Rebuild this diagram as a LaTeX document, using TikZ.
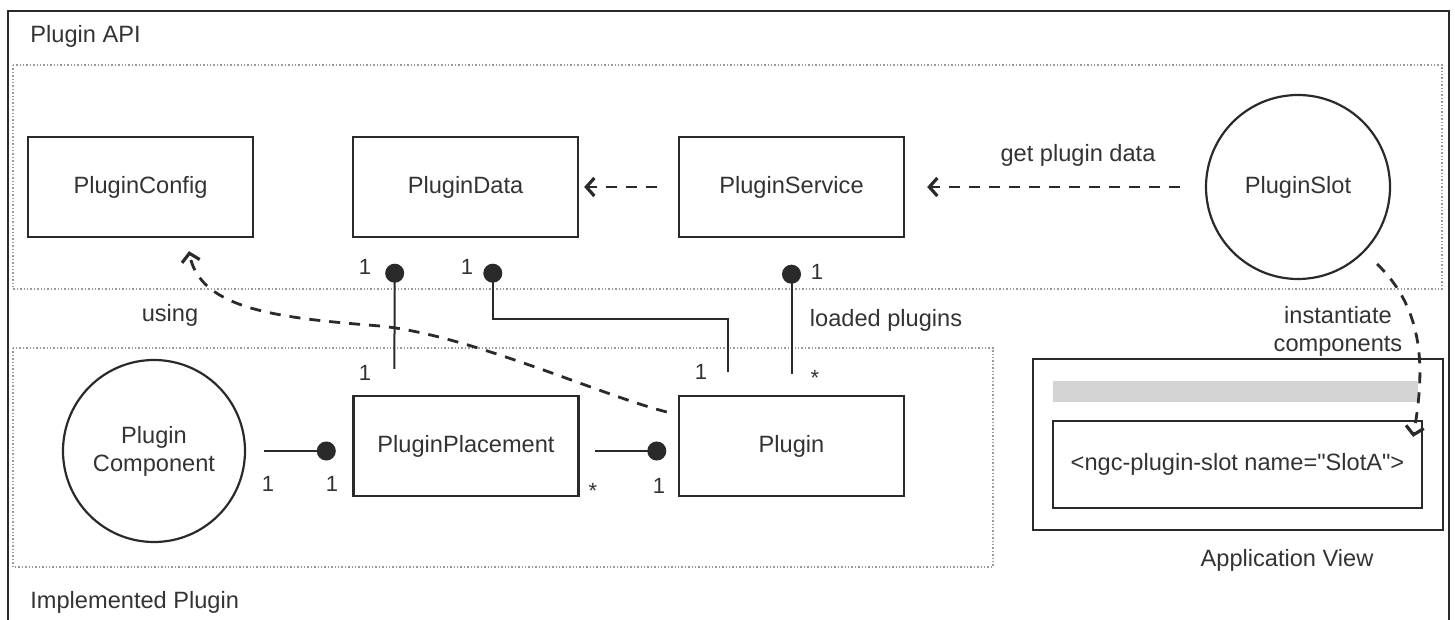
\documentclass[tikz,border=0pt]{standalone}
\usepackage{fontspec}
\setmainfont{Liberation Sans}[Ligatures=TeXOff]
\usetikzlibrary{arrows.meta,calc}
\definecolor{inkgray}{HTML}{333333}
\definecolor{framegray}{HTML}{2a2a2a}
\definecolor{dotgray}{HTML}{9a9a9a}
\definecolor{bargray}{HTML}{d4d4d4}

\begin{document}
\begin{tikzpicture}[x=0.5pt, y=-0.5pt,
    every node/.style={text=inkgray, font=\fontsize{11.8}{14}\selectfont},
    classbox/.style={draw=framegray, line width=1.2pt, minimum width=112.5pt, minimum height=50pt, inner sep=0pt},
    compcircle/.style={draw=framegray, line width=1.1pt, circle, minimum size=91pt, inner sep=0pt, align=center},
    zone/.style={draw=dotgray, line width=0.7pt, densely dotted},
    assoc/.style={draw=framegray, line width=1pt, -{Circle[length=9.5pt]}},
    uses/.style={draw=framegray, line width=1.4pt, dash pattern=on 5.5pt off 4.5pt,
        -{Straight Barb[length=4pt, width=9pt, line width=1.6pt]}},
    mult/.style={anchor=base, font=\fontsize{11}{13}\selectfont}]

    \useasboundingbox (0,0) rectangle (1455,620);
    \draw[framegray, line width=1pt] (8,620) -- (8,11) -- (1449,11) -- (1449,620);
    \draw[zone] (13,65) rectangle (1442,289);
    \draw[zone] (13,348) rectangle (993,567);
    \node[anchor=west, inner sep=0pt] (apilbl) at (30,36) {Plugin API};
    \node[anchor=west, inner sep=0pt] (implbl) at (30,602) {Implemented Plugin};

    \node[classbox] (cfg) at (140.5,187) {PluginConfig};
    \node[classbox] (data) at (465.5,187) {PluginData};
    \node[classbox] (svc) at (791.5,187) {PluginService};
    \node[compcircle, minimum size=92pt] (slot) at (1298,187) {PluginSlot};
    \node[compcircle] (comp) at (154,451) {Plugin\\Component};
    \node[classbox] (place) at (466,446) {PluginPlacement};
    \node[classbox] (plg) at (791.5,446) {Plugin};

    \node[draw=framegray, line width=1.1pt, minimum width=205pt, minimum height=85.5pt] (appview) at (1238,444.5) {};
    \node[fill=bargray, minimum width=182.5pt, minimum height=10.5pt, inner sep=0pt] (bar) at (1235.5,391.5) {};
    \node[draw=framegray, line width=1.1pt, minimum width=184.5pt, minimum height=43.5pt] (tag) at (1237.5,464.5)
        {<ngc-plugin-slot name="SlotA">};
    \node (applbl) at (1287,560) {Application View};

    \draw[uses, shorten <=10.5pt, shorten >=2.5pt] (svc.west) -- (data.east);
    \draw[uses, shorten <=12.5pt, shorten >=11pt] (slot.west) -- (svc.east);
    \node (getlbl) at (1078,155) {get plugin data};

    \draw[uses] ($(plg.west)+(-11,-34)$) .. controls (600,395) and (470,335) .. (380,326)
        .. controls (280,318) and (200,310) .. ($(cfg.south)+(48.5,13)$);
    \node (usinglbl) at (170,315) {using};

    \draw[uses] ($(slot.center)+(79,77)$) .. controls (1425,310) and (1425,370) .. ($(tag.north east)+(-10,17)$);
    \node[align=center] (instlbl) at (1338,331) {instantiate\\components};

    \draw[assoc, shorten <=9pt, shorten >=8.25pt] (comp.east) -- (comp.east -| place.west);
    \draw[assoc, shorten <=7.5pt, shorten >=5.75pt] (place.east |- comp.east) -- (plg.west |- comp.east);
    \draw[assoc, shorten <=13pt, shorten >=12.75pt] ($(place.north west)+(42,0)$) -- ($(data.south west)+(43,0)$);
    \draw[assoc, shorten >=12.75pt] ($(plg.north west)+(50,-23)$) |- ($(data.south west)+(141,81)$)
        -- ($(data.south west)+(141,0)$);
    \draw[assoc, shorten <=10.5pt, shorten >=13.25pt] (plg.north) -- (svc.south);
    \node (loadlbl) at (886,320) {loaded plugins};

    \node[mult] (m1) at (268,491) {1};
    \node[mult] (m2) at (332,491) {1};
    \node[mult] (m3) at (593,498) {*};
    \node[mult] (m4) at (659,493) {1};
    \node[mult] (m5) at (365,274) {1};
    \node[mult] (m6) at (365,380) {1};
    \node[mult] (m7) at (467,274) {1};
    \node[mult] (m8) at (701,379) {1};
    \node[mult] (m9) at (817,279) {1};
    \node[mult] (m10) at (815,385) {*};
\end{tikzpicture}
\end{document}
